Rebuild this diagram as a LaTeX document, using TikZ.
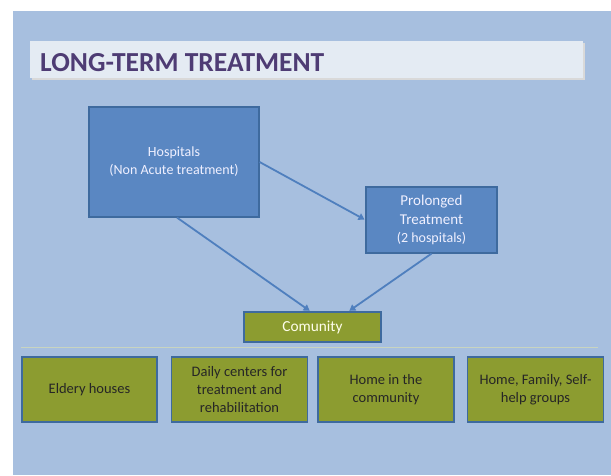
\documentclass[tikz,border=0pt]{standalone}
\usepackage{fontspec}
\setmainfont{Carlito}
\usetikzlibrary{arrows.meta}
\definecolor{slidebg}{HTML}{A7BFDF}
\definecolor{boxblue}{HTML}{5A87C2}
\definecolor{boxedge}{HTML}{3E6A9E}
\definecolor{boxgreen}{HTML}{8C9C30}
\definecolor{titlebar}{HTML}{E4EBF3}
\definecolor{titletext}{HTML}{4E3C74}
\definecolor{arrowblue}{HTML}{4F7FBE}
\definecolor{sepline}{HTML}{C8D4C0}
\tikzset{
  bluebox/.style={draw=boxedge, line width=1.2pt, fill=boxblue, text=white!94!blue, align=center,
    font=\fontsize{14}{18}\selectfont, inner sep=0pt},
  greenbox/.style={draw=boxedge, line width=1.2pt, fill=boxgreen, text=black!85, align=center,
    font=\fontsize{14.5}{18}\selectfont, inner sep=0pt, minimum height=65pt},
  link/.style={draw=arrowblue, line width=1.8pt, -{Triangle[length=6pt,width=7pt]}, shorten >=1pt}
}
\begin{document}
\begin{tikzpicture}[x=1pt,y=-1pt]
\useasboundingbox (0,0) rectangle (611,475);
\fill[white] (0,0) rectangle (611,475);
\fill[slidebg] (13,11) rectangle (611,475);
% title bar
\fill[black!15] (32,43) rectangle (585,80);
\fill[titlebar] (30,41) rectangle (583,78);
\node[anchor=base west, inner sep=0pt, text=titletext, font=\fontsize{27.5}{28}\selectfont\bfseries] (title) at (40,71) {LONG-TERM TREATMENT};
% blue boxes
\node[bluebox, minimum width=170pt, minimum height=110pt] (hosp) at (174,162) {Hospitals\\(Non Acute treatment)};
\node[bluebox, minimum width=131pt, minimum height=66pt, font=\fontsize{15}{18.5}\selectfont] (prol) at (431.5,220) {Prolonged\\Treatment\\{\fontsize{14}{18.5}\selectfont(2 hospitals)}};
% comunity
\node[draw=boxedge, line width=1.2pt, fill=boxgreen, text=white!92!yellow, minimum width=137pt, minimum height=30pt, font=\fontsize{15.3}{17}\selectfont, inner sep=0pt] (com) at (312.5,327) {Comunity};
% separator
\draw[sepline, line width=0.8pt] (21,347) -- (598,347);
% bottom boxes
\node[greenbox, minimum width=135pt] (b1) at (89.5,389.5) {Eldery houses};
\node[greenbox, minimum width=136pt] (b2) at (239.5,389.5) {Daily centers for\\treatment and\\rehabilitation};
\node[greenbox, minimum width=136pt] (b3) at (386,389.5) {Home in the\\community};
\node[greenbox, minimum width=136pt] (b4) at (535.5,389.5) {Home, Family, Self-\\help groups};
% connectors
\draw[link] (hosp.east) -- (prol.west);
\draw[link] ([xshift=3pt]hosp.south) -- ([xshift=-2pt]com.north);
\draw[link] (prol.south) -- ([xshift=36pt]com.north);
\end{tikzpicture}
\end{document}
